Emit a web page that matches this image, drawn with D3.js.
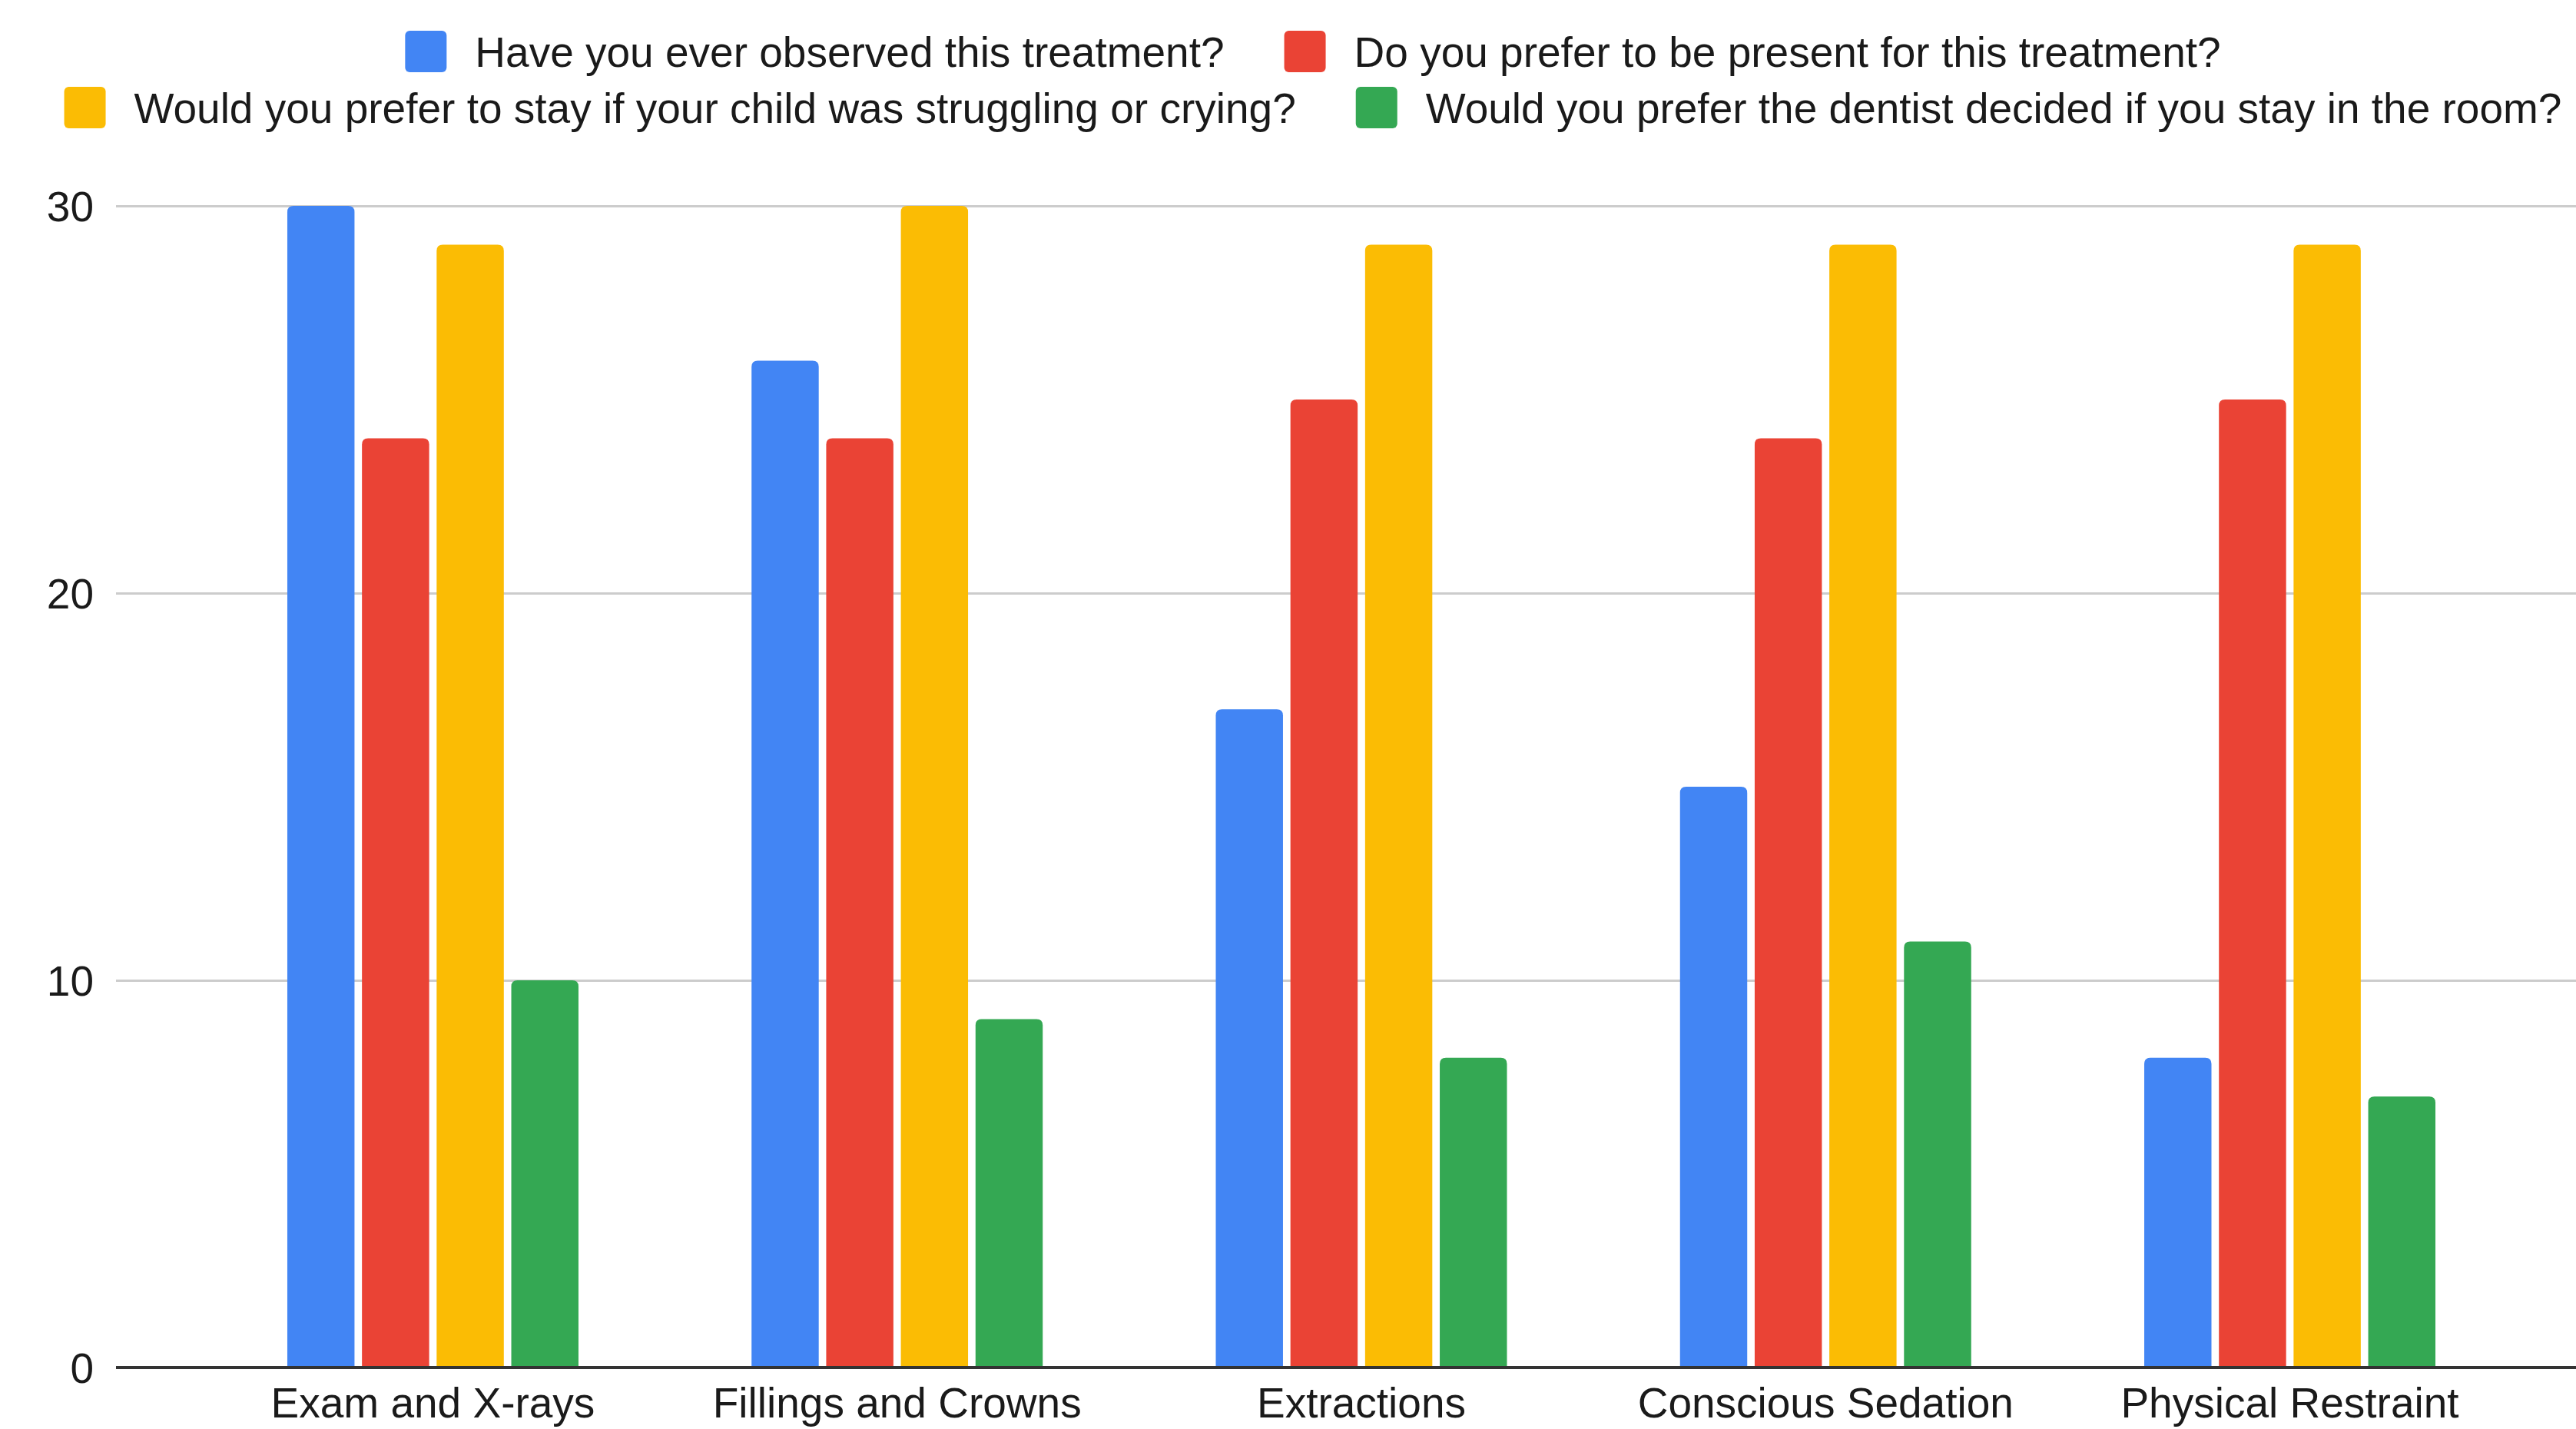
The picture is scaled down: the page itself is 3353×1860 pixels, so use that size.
<!DOCTYPE html>
<html>
<head>
<meta charset="utf-8">
<script src="https://cdn.jsdelivr.net/npm/d3@7"></script>
<style>
  html, body { margin: 0; padding: 0; background: #ffffff; }
  svg { display: block; }
  text { font-family: "Liberation Sans", Arial, Helvetica, sans-serif; fill: #1a1a1a; }
</style>
</head>
<body>
<svg id="chart" width="3353" height="1860"></svg>
<script>
// Survey responses per dental treatment
const categories = ["Exam and X-rays", "Fillings and Crowns", "Extractions", "Conscious Sedation", "Physical Restraint"];
const seriesNames = [
  "Have you ever observed this treatment?",
  "Do you prefer to be present for this treatment?",
  "Would you prefer to stay if your child was struggling or crying?",
  "Would you prefer the dentist decided if you stay in the room?"
];
const observed = [30, 26, 17, 15, 8];
const presentPref = [24, 24, 25, 24, 25];
const stayIfCrying = [29, 30, 29, 29, 29];
const dentistDecides = [10, 9, 8, 11, 7];
const yTicks = [0, 10, 20, 30];
const colors = ["#4285F4", "#EA4335", "#FBBC04", "#34A853"];

const seriesValues = [observed, presentPref, stayIfCrying, dentistDecides];

const svg = d3.select("#chart");
const plot = { left: 151, right: 3393, top: 268, bottom: 1780 };

const x0 = d3.scaleBand()
  .domain(categories)
  .range([plot.left, plot.right])
  .paddingInner(0.3728)
  .paddingOuter(0.369);

const x1 = d3.scaleBand()
  .domain(d3.range(seriesNames.length))
  .range([0, x0.bandwidth()])
  .paddingInner(0.1)
  .paddingOuter(0);

const y = d3.scaleLinear().domain([0, 30]).range([plot.bottom, plot.top]);

// Gridlines and y labels
const yAxis = d3.axisLeft(y)
  .tickValues(yTicks)
  .tickSize(-(plot.right - plot.left))
  .tickPadding(29)
  .tickFormat(d3.format("d"));

const gy = svg.append("g")
  .attr("transform", `translate(${plot.left},0)`)
  .call(yAxis);
gy.select(".domain").remove();
gy.selectAll(".tick line")
  .attr("stroke", "#cccccc")
  .attr("stroke-width", 3);
gy.selectAll(".tick text")
  .attr("font-size", 55)
  .attr("fill", "#1a1a1a")
  .attr("dy", "0.36em");

// Bars with rounded top corners
function topRoundedBar(x, yTop, w, h, r) {
  r = Math.min(r, w / 2, h);
  return `M${x},${yTop + h}` +
    `V${yTop + r}` +
    `Q${x},${yTop} ${x + r},${yTop}` +
    `H${x + w - r}` +
    `Q${x + w},${yTop} ${x + w},${yTop + r}` +
    `V${yTop + h}Z`;
}

const groups = svg.append("g")
  .selectAll("g")
  .data(categories)
  .join("g")
  .attr("transform", d => `translate(${x0(d)},0)`);

groups.selectAll("path")
  .data((d, ci) => seriesValues.map((vals, si) => ({ si, v: vals[ci] })))
  .join("path")
  .attr("fill", d => colors[d.si])
  .attr("d", d => topRoundedBar(x1(d.si), y(d.v), x1.bandwidth(), y(0) - y(d.v), 8));

// Baseline
svg.append("line")
  .attr("x1", plot.left).attr("x2", plot.right)
  .attr("y1", y(0)).attr("y2", y(0))
  .attr("stroke", "#333333")
  .attr("stroke-width", 4);

// Category labels
svg.append("g")
  .selectAll("text")
  .data(categories)
  .join("text")
  .attr("x", d => x0(d) + x0.bandwidth() / 2)
  .attr("y", 1845)
  .attr("text-anchor", "middle")
  .attr("font-size", 55)
  .text(d => d);

// Legend: two rows, each centered
const legendRows = [[0, 1], [2, 3]];
const rowCenterY = [67, 140];
const legendCenterX = 1709;
const sw = 54, swGap = 37, itemGap = 78;

const legend = svg.append("g");
legendRows.forEach((row, ri) => {
  const rowG = legend.append("g");
  let cursor = 0;
  row.forEach((si, k) => {
    if (k > 0) cursor += itemGap;
    rowG.append("rect")
      .attr("x", cursor)
      .attr("y", rowCenterY[ri] - sw / 2)
      .attr("width", sw).attr("height", sw)
      .attr("rx", 6).attr("ry", 6)
      .attr("fill", colors[si]);
    cursor += sw + swGap;
    const t = rowG.append("text")
      .attr("x", cursor)
      .attr("y", rowCenterY[ri])
      .attr("dy", "0.36em")
      .attr("font-size", 55)
      .text(seriesNames[si]);
    cursor += t.node().getComputedTextLength();
  });
  rowG.attr("transform", `translate(${legendCenterX - cursor / 2},0)`);
});
</script>
</body>
</html>
